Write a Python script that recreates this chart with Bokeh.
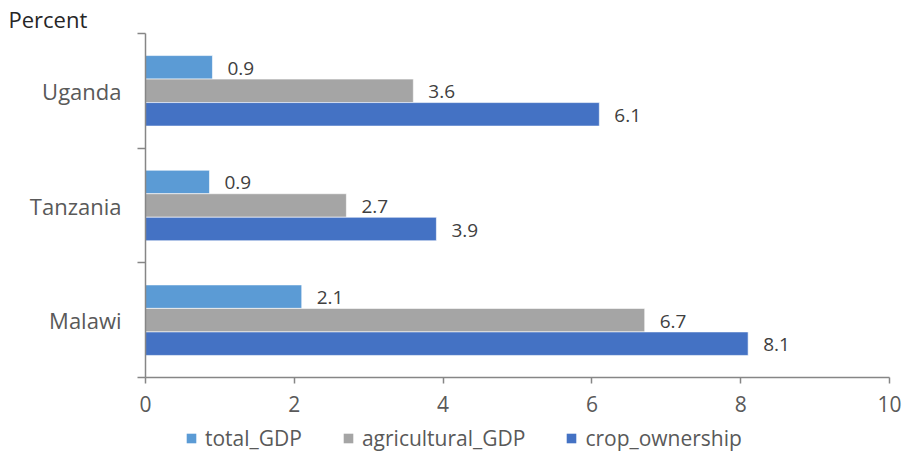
from bokeh.plotting import figure
from bokeh.layouts import column
from bokeh.models import (ColumnDataSource, Range1d, FixedTicker, LabelSet, Title,
                          Legend, LegendItem)
from bokeh.core.properties import value
from bokeh.transform import dodge
from bokeh.embed import file_html
from bokeh.resources import INLINE

countries = ["Malawi", "Tanzania", "Uganda"]
total_GDP = [2.1, 0.86, 0.9]
agricultural_GDP = [6.71, 2.7, 3.6]
crop_ownership = [8.1, 3.91, 6.1]
x_ticks = [0, 2, 4, 6, 8, 10]

series = [("total_GDP", total_GDP, "#5B9BD5", 0.205),
          ("agricultural_GDP", agricultural_GDP, "#A5A5A5", 0.0),
          ("crop_ownership", crop_ownership, "#4472C4", -0.205)]

FONT = "Open Sans"
ypos = [i + 0.5 for i in range(len(countries))]

p = figure(width=903, height=424, output_backend="svg", toolbar_location=None,
           x_range=Range1d(0, 10), y_range=Range1d(0, len(countries)),
           min_border_left=145, min_border_top=33, min_border_right=14,
           min_border_bottom=47)
p.outline_line_color = None
p.grid.visible = False

# separate strip for the legend (its bars lie far outside its visible range)
leg = figure(width=903, height=28, output_backend="svg", toolbar_location=None,
             x_range=Range1d(0, 10), y_range=Range1d(60, 61),
             x_axis_location=None, y_axis_location=None,
             min_border=0, min_border_left=0, min_border_right=0,
             min_border_top=0, min_border_bottom=0)
leg.outline_line_color = None
leg.grid.visible = False

items = []
for name, vals, color, off in series:
    src = ColumnDataSource(dict(y=ypos, v=vals,
                                lab=["%.1f" % v for v in vals]))
    p.hbar(y=dodge("y", off, range=p.y_range), right="v", left=0, height=0.205,
           source=src, fill_color=color, line_color="white", line_width=0.6)
    p.add_layout(LabelSet(x="v", y=dodge("y", off, range=p.y_range), text="lab",
                          source=src, x_offset=15, y_offset=-1, text_baseline="middle",
                          text_font=value(FONT), text_font_size=value("19px"),
                          text_color=value("#404040")))
    r_leg = leg.hbar(y="y", right="v", left=0, height=0.205, source=src,
                     fill_color=color, line_color=None)
    items.append(LegendItem(label=name, renderers=[r_leg]))

axis_color = "#868686"
# x axis
xa = p.xaxis[0]
xa.ticker = FixedTicker(ticks=x_ticks)
xa.axis_line_color = axis_color
xa.axis_line_width = 1.5
xa.major_tick_line_color = axis_color
xa.major_tick_line_width = 1.5
xa.major_tick_in = 0
xa.major_tick_out = 6
xa.minor_tick_line_color = None
xa.major_label_text_font = FONT
xa.major_label_text_font_size = "21px"
xa.major_label_text_color = "#595959"
xa.major_label_standoff = 12

# y axis
ya = p.yaxis[0]
ya.ticker = FixedTicker(ticks=ypos, minor_ticks=list(range(len(countries) + 1)))
ya.major_label_overrides = {y: c for y, c in zip(ypos, countries)}
ya.axis_line_color = axis_color
ya.axis_line_width = 1.5
ya.major_tick_line_color = None
ya.major_tick_in = 0
ya.major_tick_out = 0
ya.minor_tick_line_color = axis_color
ya.minor_tick_line_width = 1.5
ya.minor_tick_in = 0
ya.minor_tick_out = 8
ya.major_label_text_font = FONT
ya.major_label_text_font_size = "22px"
ya.major_label_text_color = "#595959"
ya.major_label_standoff = 16

legend = Legend(items=items, orientation="horizontal", location=(40, 0),
                label_text_font=FONT, label_text_font_size="21px",
                label_text_color="#595959", glyph_width=12, glyph_height=12,
                label_standoff=8, spacing=40, padding=0, margin=0,
                border_line_color=None, background_fill_alpha=0)
leg.add_layout(legend)

p.add_layout(Title(text="Percent", align="left", offset=-137, text_font=FONT,
                   text_font_size="22px", text_font_style="normal",
                   text_color="#262626", standoff=0), "above")

layout = column(p, leg, spacing=0)
open("out.html", "w").write(file_html(layout, INLINE))
